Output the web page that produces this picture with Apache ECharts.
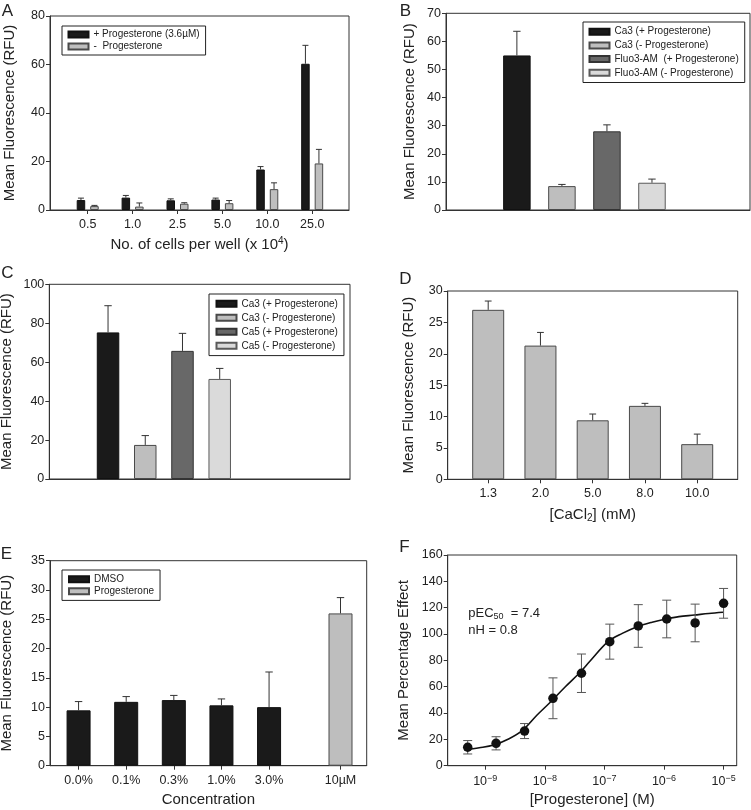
<!DOCTYPE html>
<html><head><meta charset="utf-8">
<script src="https://cdn.jsdelivr.net/npm/echarts@6/dist/echarts.min.js"></script>
<style>html,body{margin:0;padding:0;background:#fff}#c{width:751px;height:810px}</style>
</head><body><div id="c"></div>
<script>
// ---------- DATA ----------
// Panel A
const aCells = ['0.5', '1.0', '2.5', '5.0', '10.0', '25.0'];
const aPlus = [4.1, 5.1, 4.0, 4.3, 16.7, 60.3];
const aPlusErr = [0.8, 0.9, 0.6, 0.6, 1.2, 7.6];
const aMinus = [1.6, 1.4, 2.6, 2.8, 8.6, 19.2];
const aMinusErr = [0.3, 1.5, 0.4, 1.1, 2.6, 5.8];
const aNames = ['+ Progesterone (3.6µM)', '-  Progesterone'];
// Panel B
const bNames = ['Ca3 (+ Progesterone)', 'Ca3 (- Progesterone)', 'Fluo3-AM  (+ Progesterone)', 'Fluo3-AM (- Progesterone)'];
const bVals = [55.0, 8.5, 28.0, 9.7];
const bErr = [8.6, 0.6, 2.3, 1.3];
// Panel C
const cNames = ['Ca3 (+ Progesterone)', 'Ca3 (- Progesterone)', 'Ca5 (+ Progesterone)', 'Ca5 (- Progesterone)'];
const cVals = [75.3, 17.5, 65.8, 51.4];
const cErr = [13.7, 4.8, 9.0, 5.4];
// Panel D
const dCacl = ['1.3', '2.0', '5.0', '8.0', '10.0'];
const dVals = [27.0, 21.3, 9.4, 11.7, 5.6];
const dErr = [1.4, 2.1, 1.0, 0.4, 1.6];
// Panel E
const eLabels = ['0.0%', '0.1%', '0.3%', '1.0%', '3.0%', '10µM'];
const eDmso = [9.45, 10.9, 11.2, 10.3, 10.0];
const eDmsoErr = [1.5, 0.9, 0.8, 1.1, 6.0];
const eProg = [26.0];
const eProgErr = [2.7];
const eNames = ['DMSO', 'Progesterone'];
// Panel F
const fConcM = [5.08e-10, 1.52e-9, 4.57e-9, 1.37e-8, 4.12e-8, 1.23e-7, 3.70e-7, 1.11e-6, 3.33e-6, 1.0e-5];
const fMean = [14.0, 17.0, 26.3, 51.2, 70.2, 94.2, 106.1, 111.4, 108.4, 123.3];
const fSem = [5.1, 5.0, 5.7, 15.5, 14.6, 13.3, 16.2, 14.3, 14.3, 11.3];
const fCurveLogM = [-9.35, -9.1, -8.86, -8.6, -8.37, -8.13, -7.9, -7.66, -7.42, -7.24, -6.94, -6.7, -6.45, -6.2, -5.97, -5.75, -5.49, -5.25, -5.01];
const fCurveY = [12.0, 13.6, 15.7, 20.5, 27.0, 38.5, 48.6, 59.8, 70.4, 79.5, 94.2, 100.5, 105.6, 109.0, 111.4, 113.2, 114.4, 115.6, 116.5];
const fTicks = [-9, -8, -7, -6, -5];

// ---------- LAYOUT / STYLE ----------
const FONT = '"Liberation Sans", Arial, Helvetica, sans-serif';
const TXT = '#222';
const AX = '#333';
const BLACK = '#1a1a1a', GREY = '#bebebe', DARK = '#686868', LIGHT = '#dadada';
const BORDER_DARK = '#111', BORDER_GREY = '#4a4a4a';

const grids = [
  {left: 50, top: 16, width: 299, height: 194},       // A
  {left: 446, top: 13.3, width: 304, height: 196.7},  // B
  {left: 49.3, top: 284.3, width: 300.7, height: 194.7}, // C
  {left: 447.7, top: 291, width: 290, height: 188.3}, // D
  {left: 50, top: 560.7, width: 316.7, height: 205},  // E
  {left: 447.7, top: 555, width: 289, height: 210.7}  // F
];
const seqPos = n => Array.from({length: n}, (_, i) => i + 1);
const ePos = [1, 2, 3, 4, 5, 6.5];

const richSup = {
  sup: {fontSize: 10, lineHeight: 10, verticalAlign: 'top', fontFamily: FONT, color: TXT}
};

function yAx(gi, max, interval, name, nameGap) {
  return {
    type: 'value', gridIndex: gi, min: 0, max, interval,
    name, nameLocation: 'middle', nameGap, nameMoveOverlap: false,
    nameTextStyle: {fontSize: 15, color: TXT, fontFamily: FONT},
    axisLine: {show: true, onZero: false, lineStyle: {color: AX, width: 1}},
    axisTick: {show: true, length: 4, lineStyle: {color: AX}},
    axisLabel: {fontSize: 12.5, color: TXT, margin: 5, fontFamily: FONT},
    splitLine: {show: false}
  };
}
function xAx(gi, min, max, ticks, labels, name, nameGap, extra) {
  const has = ticks && ticks.length;
  const ax = {
    type: 'value', gridIndex: gi, min, max,
    axisLine: {show: true, onZero: false, lineStyle: {color: AX, width: 1}},
    axisTick: has ? {show: true, length: 4, customValues: ticks, lineStyle: {color: AX}} : {show: false},
    axisLabel: has ? {
      show: true, customValues: ticks, fontSize: 12.5, color: TXT, margin: 8, fontFamily: FONT,
      formatter: v => { const i = ticks.findIndex(t => Math.abs(t - v) < 1e-6); return i < 0 ? '' : labels[i]; }
    } : {show: false},
    splitLine: {show: false}
  };
  if (name) {
    ax.name = name; ax.nameLocation = 'middle'; ax.nameGap = nameGap; ax.nameMoveOverlap = false;
    ax.nameTextStyle = {fontSize: 15, color: TXT, fontFamily: FONT, lineHeight: 17};
  }
  return Object.assign(ax, extra || {});
}
function bar(name, gi, xs, ys, color, border, width, gap) {
  return {
    type: 'bar', name, xAxisIndex: gi, yAxisIndex: gi,
    data: xs.map((x, i) => [x, ys[i]]),
    barWidth: width, barGap: gap,
    itemStyle: {color, borderColor: border, borderWidth: 1},
    emphasis: {disabled: true}, silent: true
  };
}
function err(gi, xs, ys, es, offset, half, color, both) {
  return {
    type: 'custom', xAxisIndex: gi, yAxisIndex: gi, z: 5, silent: true,
    data: xs.map((x, i) => [x, ys[i], es[i]]),
    encode: {x: 0, y: 1},
    renderItem: (params, api) => {
      const x = api.value(0), y = api.value(1), e = api.value(2);
      const top = api.coord([x, y + e]);
      const bot = api.coord([x, both ? y - e : y]);
      const cx = top[0] + offset;
      const st = {stroke: color, lineWidth: 1};
      const ch = [
        {type: 'line', shape: {x1: cx, y1: bot[1], x2: cx, y2: top[1]}, style: st},
        {type: 'line', shape: {x1: cx - half, y1: top[1], x2: cx + half, y2: top[1]}, style: st}
      ];
      if (both) ch.push({type: 'line', shape: {x1: cx - half, y1: bot[1], x2: cx + half, y2: bot[1]}, style: st});
      return {type: 'group', children: ch};
    }
  };
}
function legend(left, top, names, gap, pad) {
  return {
    left, top, orient: 'vertical', data: names, icon: 'rect',
    itemWidth: 20, itemHeight: 6, itemGap: gap, padding: pad,
    borderColor: '#222', borderWidth: 1, selectedMode: false,
    textStyle: {fontSize: 10, color: TXT, fontFamily: FONT, lineHeight: 12}
  };
}

const aPos = seqPos(aCells.length);
const bPos = seqPos(bVals.length);
const cPos = seqPos(cVals.length);
const dPos = seqPos(dVals.length);
const fLog = fConcM.map(c => Math.log10(c));

const aW = 8.5, aGap = 5;
const aOff = (aW + aGap) / 2;

const series = [];
// A
series.push(bar(aNames[0], 0, aPos, aPlus, BLACK, BORDER_DARK, aW, (aGap / aW * 100) + '%'));
series.push(bar(aNames[1], 0, aPos, aMinus, GREY, BORDER_GREY, aW, (aGap / aW * 100) + '%'));
series.push(err(0, aPos, aPlus, aPlusErr, -aOff, 3, '#333', false));
series.push(err(0, aPos, aMinus, aMinusErr, aOff, 3, '#333', false));
// B
const bColors = [BLACK, GREY, DARK, LIGHT];
const bBorders = [BORDER_DARK, BORDER_GREY, '#333', '#5a5a5a'];
bNames.forEach((n, i) => series.push(bar(n, 1, [bPos[i]], [bVals[i]], bColors[i], bBorders[i], 27.5, '-100%')));
series.push(err(1, bPos, bVals, bErr, 0, 3.7, '#333', false));
// C
cNames.forEach((n, i) => series.push(bar(n, 2, [cPos[i]], [cVals[i]], bColors[i], bBorders[i], 22.5, '-100%')));
series.push(err(2, cPos, cVals, cErr, 0, 3.7, '#333', false));
// D
series.push(bar('CaCl2', 3, dPos, dVals, GREY, BORDER_GREY, 32, '-100%'));
series.push(err(3, dPos, dVals, dErr, 0, 3.4, '#333', false));
// E
series.push(bar(eNames[0], 4, ePos.slice(0, 5), eDmso, BLACK, BORDER_DARK, 24, '-100%'));
series.push(bar(eNames[1], 4, ePos.slice(5), eProg, GREY, BORDER_GREY, 24, '-100%'));
series.push(err(4, ePos.slice(0, 5), eDmso, eDmsoErr, 0, 3.7, '#333', false));
series.push(err(4, ePos.slice(5), eProg, eProgErr, 0, 3.7, '#333', false));
// F
series.push({
  type: 'line', xAxisIndex: 5, yAxisIndex: 5, smooth: 0.35, showSymbol: false, silent: true,
  data: fCurveLogM.map((x, i) => [x, fCurveY[i]]),
  lineStyle: {color: '#111', width: 1.6}, z: 3
});
series.push(err(5, fLog, fMean, fSem, 0, 4.5, '#555', true));
series.push({
  type: 'scatter', xAxisIndex: 5, yAxisIndex: 5, silent: true, symbol: 'circle', symbolSize: 9.5,
  data: fLog.map((x, i) => [x, fMean[i]]),
  itemStyle: {color: '#111', opacity: 1}, z: 6
});

const fLabels = fTicks.map(t => '10{sup|−' + Math.abs(t) + '}');

const option = {
  animation: false,
  textStyle: {fontFamily: FONT},
  grid: grids.map(g => Object.assign({}, g, {
    show: true, borderColor: AX, borderWidth: 1, backgroundColor: 'transparent',
    containLabel: false, outerBoundsMode: 'none'
  })),
  xAxis: [
    xAx(0, 0.16, 6.82, aPos, aCells, 'No. of cells per well (x 10{sup|4})', 26,
        {nameTextStyle: {fontSize: 15, color: TXT, fontFamily: FONT, lineHeight: 17, rich: richSup}}),
    xAx(1, -0.574, 6.177, null, null),
    xAx(2, -0.578, 7.50, null, null),
    xAx(3, 0.225, 5.775, dPos, dCacl, '[CaCl{sub|2}] (mM)', 27,
        {nameTextStyle: {fontSize: 15, color: TXT, fontFamily: FONT, lineHeight: 17,
          rich: {sub: {fontSize: 10, lineHeight: 10, verticalAlign: 'bottom', fontFamily: FONT, color: TXT}}}}),
    xAx(4, 0.4, 7.05, ePos, eLabels, 'Concentration', 26),
    xAx(5, -9.63, -4.78, fTicks, fLabels, '[Progesterone] (M)', 26)
  ],
  yAxis: [
    yAx(0, 80, 20, 'Mean Fluorescence (RFU)', 33),
    yAx(1, 70, 10, 'Mean Fluorescence (RFU)', 29),
    yAx(2, 100, 20, 'Mean Fluorescence (RFU)', 35),
    yAx(3, 30, 5, 'Mean Fluorescence (RFU)', 31),
    yAx(4, 35, 5, 'Mean Fluorescence (RFU)', 36),
    yAx(5, 160, 20, 'Mean Percentage Effect', 36)
  ],
  legend: [
    legend(62, 26, aNames, 0, [2.5, 6, 2.5, 5.5]),
    legend(583, 22, bNames, 1.7, [3.7, 6, 3.7, 5.5]),
    legend(209, 294, cNames, 2, [3.8, 6, 3.8, 6.5]),
    legend(62, 570, eNames, 0, [3.2, 6, 3.2, 6])
  ],
  series,
  graphic: [
    ['A', 7.5, 11], ['B', 405.5, 11], ['C', 7.5, 273], ['D', 405.5, 279], ['E', 6.5, 554], ['F', 404.5, 547.5]
  ].map(([t, x, y]) => ({
    type: 'text', x, y, silent: true,
    style: {text: t, fontSize: 17, fill: TXT, fontFamily: FONT, align: 'center', verticalAlign: 'middle'}
  })).concat([
    {type: 'text', x: 468.3, y: 613, silent: true,
     style: {text: 'pEC{s|50}  = 7.4', fontSize: 13, lineHeight: 16, fill: TXT, fontFamily: FONT,
       align: 'left', verticalAlign: 'middle',
       rich: {s: {fontSize: 9, lineHeight: 9, verticalAlign: 'bottom', fontFamily: FONT, fill: TXT}}}},
    {type: 'text', x: 468.3, y: 630, silent: true,
     style: {text: 'nH = 0.8', fontSize: 13, fill: TXT, fontFamily: FONT, align: 'left', verticalAlign: 'middle'}}
  ])
};
// rich for F tick labels
option.xAxis[5].axisLabel.rich = {sup: {fontSize: 9, lineHeight: 9, verticalAlign: 'top', fontFamily: FONT, color: TXT}};
option.xAxis[5].axisLabel.lineHeight = 16;

const chart = echarts.init(document.getElementById('c'), null, {renderer: 'canvas'});
chart.setOption(option);
</script>
</body></html>
